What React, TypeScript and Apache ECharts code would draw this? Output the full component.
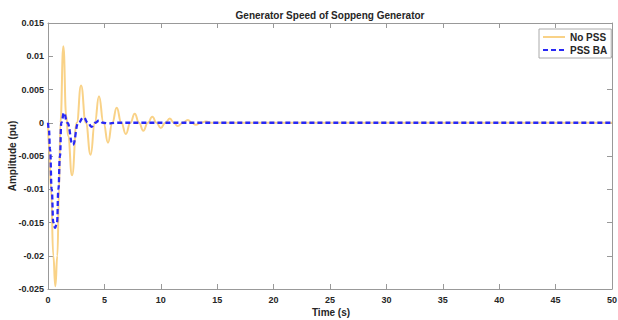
import React, { useEffect, useRef } from "react";
import * as echarts from "echarts";

const titleText = "Generator Speed of Soppeng Generator";
const xTitle = "Time (s)";
const yTitle = "Amplitude (pu)";
const seriesNames = ["No PSS", "PSS BA"];

// No PSS (time s, amplitude pu)
const noPssT = [0, 0.1, 0.27, 0.47, 0.65, 0.83, 0.98, 1.1, 1.36, 1.62, 1.78, 2.13, 2.55, 2.93, 3.35, 3.78, 4.15, 4.52, 4.92, 5.32, 5.7, 6.09, 6.5, 6.9, 7.3, 7.69, 8.07, 8.45, 8.85, 9.25, 9.62, 10.0, 10.4, 10.8, 11.15, 11.5, 11.95, 12.4, 12.75, 13.1, 13.55, 14.0, 14.5, 15, 50];
const noPssV = [0, -0.004, -0.01, -0.02, -0.0246, -0.02, -0.01, 0, 0.0115, 0.001, -0.002, -0.0079, 0, 0.0056, 0, -0.0048, 0, 0.004, 0, -0.003, 0, 0.00225, 0, -0.0017, 0, 0.00135, 0, -0.0012, 0, 0.0009, 0, -0.0008, 0, 0.00065, 0, -0.0005, 0, 0.0004, 0, -0.0003, 0, 0.0002, 0, 0, 0];

// PSS BA (time s, amplitude pu)
const pssT = [0, 0.08, 0.18, 0.33, 0.47, 0.62, 0.8, 0.92, 1.06, 1.18, 1.42, 1.71, 2.2, 2.7, 3.15, 3.55, 3.85, 4.2, 4.5, 4.9, 5.3, 6, 50];
const pssV = [0, -0.001, -0.004, -0.01, -0.015, -0.0158, -0.015, -0.01, -0.005, 0, 0.0015, 0, -0.0033, 0, 0.0008, 0, -0.0006, 0, 0.0003, 0, -0.0001, 0, 0];

const xMin = 0, xMax = 50, xStep = 5;
const yMin = -0.025, yMax = 0.015, yStep = 0.005;

const font = "'Liberation Sans', Arial, sans-serif";
const axisColor = "#999999";
const textColor = "#262626";
const yellow = "#F9D287";
const blue = "#2828F5";

function fmtY(v: number) {
  const r = Math.round(v * 1000) / 1000;
  if (r === 0) return "0";
  return String(r);
}

export default function App() {
  const ref = useRef<HTMLDivElement>(null);
  useEffect(() => {
    if (!ref.current) return;
    const chart = echarts.init(ref.current, null, { renderer: "svg" });
    const grid = { left: 48, right: 6, top: 23, bottom: 31, outerBoundsMode: "none" } as any;
    const xCommon = {
      type: "value" as const,
      min: xMin,
      max: xMax,
      interval: xStep,
      axisLine: { show: true, onZero: false, lineStyle: { color: axisColor, width: 1 } },
      axisTick: { show: true, inside: true, length: 5, lineStyle: { color: axisColor } },
      splitLine: { show: false },
    };
    const yCommon = {
      type: "value" as const,
      min: yMin,
      max: yMax,
      interval: yStep,
      axisLine: { show: true, onZero: false, lineStyle: { color: axisColor, width: 1 } },
      axisTick: { show: true, inside: true, length: 5, lineStyle: { color: axisColor } },
      splitLine: { show: false },
    };
    chart.setOption({
      animation: false,
      backgroundColor: "#ffffff",
      grid,
      xAxis: [
        {
          ...xCommon,
          position: "bottom",
          axisLabel: { show: true, margin: 6, color: textColor, fontFamily: font, fontWeight: "bold", fontSize: 9 },
        },
        { ...xCommon, position: "top", axisLabel: { show: false } },
      ],
      yAxis: [
        {
          ...yCommon,
          position: "left",
          axisLabel: { show: true, margin: 4, color: textColor, fontFamily: font, fontWeight: "bold", fontSize: 9, formatter: fmtY },
        },
        { ...yCommon, position: "right", axisLabel: { show: false } },
      ],
      legend: {
        orient: "vertical",
        left: 539,
        top: 29,
        padding: [3, 4, 3, 3],
        itemGap: 3,
        itemWidth: 22,
        itemHeight: 10,
        backgroundColor: "#ffffff",
        borderColor: "#aaaaaa",
        borderWidth: 1,
        borderRadius: 0,
        itemStyle: { opacity: 0 },
        textStyle: { color: textColor, fontFamily: font, fontWeight: "bold", fontSize: 10 },
        data: seriesNames,
      },
      graphic: [
        {
          type: "text",
          x: 330,
          y: 15,
          style: { text: titleText, fill: textColor, font: `bold 10px ${font}`, textAlign: "center", textVerticalAlign: "middle" },
        },
        {
          type: "text",
          x: 331,
          y: 312,
          style: { text: xTitle, fill: textColor, font: `bold 10px ${font}`, textAlign: "center", textVerticalAlign: "middle" },
        },
        {
          type: "text",
          x: 12,
          y: 156,
          rotation: Math.PI / 2,
          style: { text: yTitle, fill: textColor, font: `bold 10px ${font}`, textAlign: "center", textVerticalAlign: "middle" },
        },
      ],
      series: [
        {
          name: seriesNames[0],
          type: "line",
          xAxisIndex: 0,
          yAxisIndex: 0,
          data: noPssT.map((t, i) => [t, noPssV[i]]),
          symbol: "none",
          smooth: 0.5,
          smoothMonotone: "x",
          lineStyle: { color: yellow, width: 2 },
          itemStyle: { color: yellow },
          z: 2,
        },
        {
          name: seriesNames[1],
          type: "line",
          xAxisIndex: 0,
          yAxisIndex: 0,
          data: pssT.map((t, i) => [t, pssV[i]]),
          symbol: "none",
          smooth: 0.5,
          smoothMonotone: "x",
          lineStyle: { color: blue, width: 2.3, type: [5, 3] },
          itemStyle: { color: blue },
          z: 3,
        },
      ],
    });
    return () => chart.dispose();
  }, []);
  return <div ref={ref} style={{ width: 618, height: 320, position: "absolute", left: 0, top: 0 }} />;
}
